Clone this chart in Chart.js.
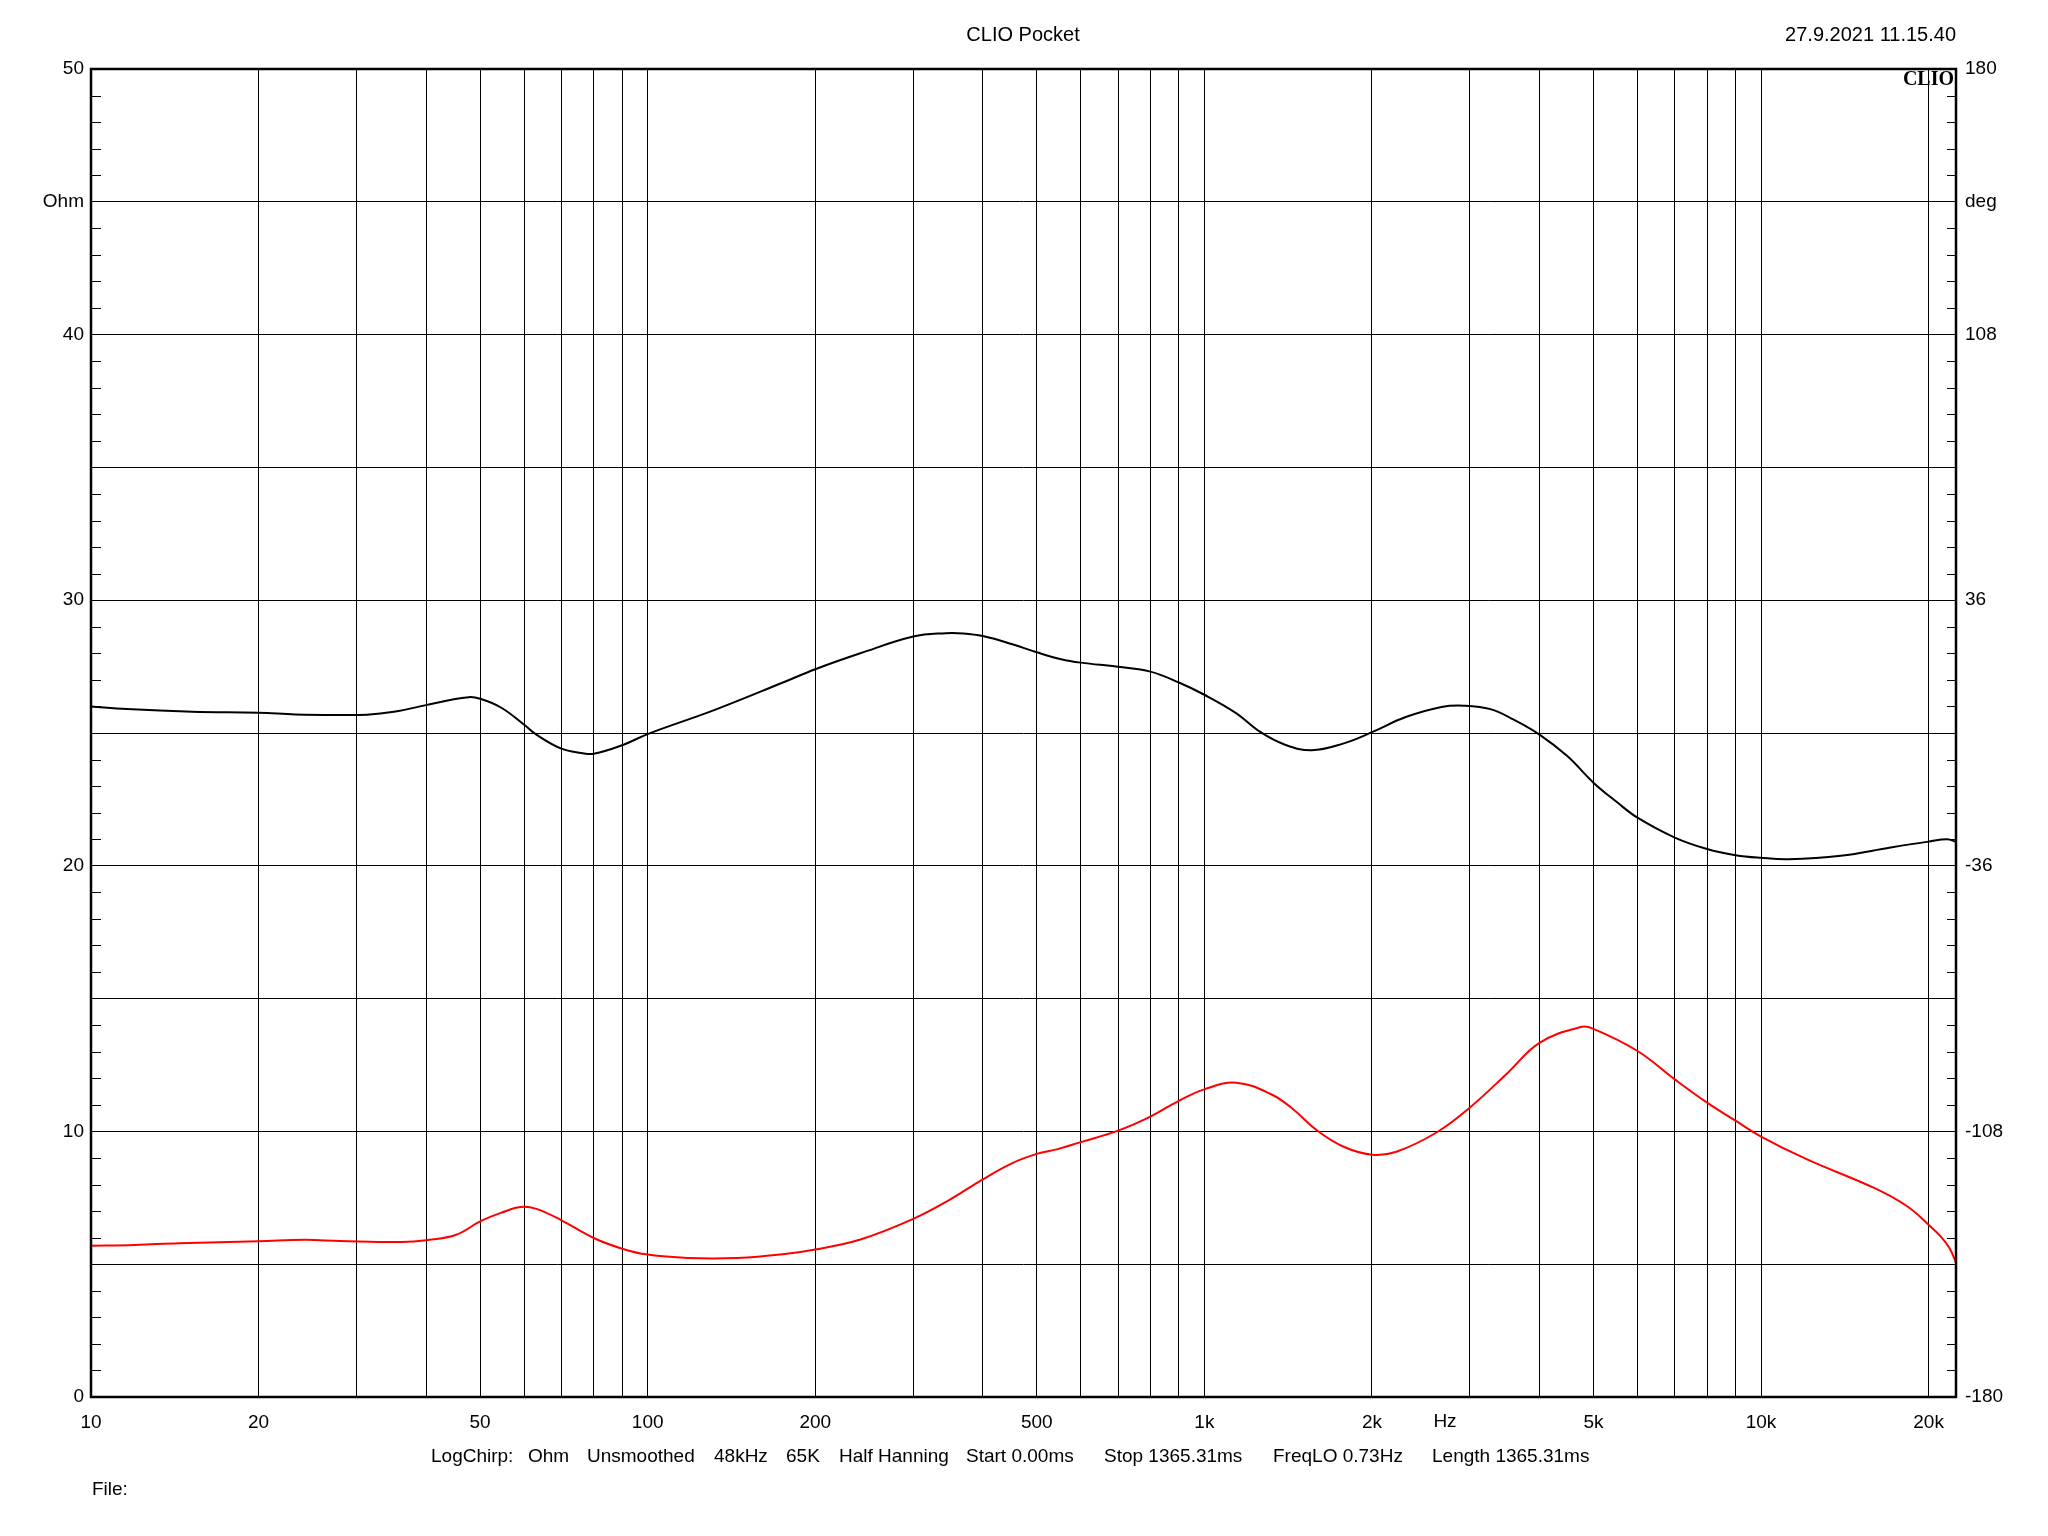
<!DOCTYPE html>
<html>
<head>
<meta charset="utf-8">
<title>CLIO Pocket</title>
<script src="https://cdn.jsdelivr.net/npm/chart.js@4.4.1/dist/chart.umd.min.js"></script>
<style>
	html, body { margin: 0; padding: 0; background: #fff; }
	canvas { display: block; }
</style>
</head>
<body>
<canvas id="chart" width="2048" height="1536"></canvas>
<script>
// impedance magnitude (black, left axis, Ohm)
const magFreq = [10, 11.6, 15.2, 20, 23.3, 27.5, 31.3, 35, 40, 43.7, 47.7, 50, 54.5, 60, 63.1, 70, 76, 80, 90, 100,
	132, 175, 200, 241, 300, 343, 369, 400, 452, 500, 553, 600, 700, 800, 900, 1000, 1140, 1262, 1396, 1559, 1775,
	2000, 2300, 2667, 2925, 3265, 3597, 4000, 4487, 5000, 5523, 6000, 7000, 8000, 9000, 10000, 11200, 13900, 17100,
	20000, 21600, 22400];
const magOhm = [26.0, 25.9, 25.8, 25.76, 25.7, 25.68, 25.69, 25.8, 26.05, 26.22, 26.35, 26.29, 25.96, 25.31, 24.94, 24.41, 24.25, 24.22, 24.54, 24.96,
	25.87, 26.9, 27.4, 28.0, 28.63, 28.76, 28.75, 28.65, 28.34, 28.04, 27.78, 27.65, 27.49, 27.31, 26.9, 26.44, 25.75, 25.03, 24.56, 24.35, 24.6,
	25.03, 25.6, 25.98, 26.03, 25.9, 25.5, 24.94, 24.13, 23.13, 22.38, 21.81, 21.06, 20.63, 20.4, 20.3, 20.25, 20.38, 20.69,
	20.91, 21.0, 20.9];

// phase (red, right axis, deg)
const phaseFreq = [10, 12, 14.4, 20, 24.2, 28, 36.2, 40, 45.3, 50, 54.5, 59.1, 63.1, 70, 80, 90, 100, 118, 145, 175,
	200, 241, 300, 349, 400, 452, 500, 545, 600, 700, 800, 900, 1000, 1140, 1321, 1449, 1589, 1775, 2000, 2213,
	2612, 3000, 3498, 4000, 4745, 5000, 6000, 7000, 8000, 9000, 10000, 12100, 16000, 18300, 20000, 21000, 21800, 22400];
const phaseDeg = [-139.0, -138.8, -138.3, -137.8, -137.4, -137.7, -138.0, -137.5, -136.0, -132.4, -130.1, -128.5, -129.0, -132.1, -136.9, -139.8, -141.4, -142.3, -142.3, -141.3,
	-140.0, -137.3, -131.7, -126.5, -121.0, -116.6, -114.1, -112.8, -110.9, -107.8, -104.0, -99.7, -96.6, -94.8, -98.0, -102.2, -107.6, -112.1, -114.3, -113.5,
	-108.3, -101.5, -92.3, -84.0, -79.7, -80.2, -86.2, -93.9, -100.2, -105.1, -109.4, -115.6, -123.4, -128.3, -133.3, -136.4, -139.6, -143.6];

// axes
const xGrid = [20, 30, 40, 50, 60, 70, 80, 90, 100, 200, 300, 400, 500, 600, 700, 800, 900,
	1000, 2000, 3000, 4000, 5000, 6000, 7000, 8000, 9000, 10000, 20000];
const xLabels = {10: '10', 20: '20', 50: '50', 100: '100', 200: '200', 500: '500',
	1000: '1k', 2000: '2k', 5000: '5k', 10000: '10k', 20000: '20k'};
const leftLabels = {0: '0', 10: '10', 20: '20', 30: '30', 40: '40', 45: 'Ohm', 50: '50'};
const rightLabels = {'-180': '-180', '-108': '-108', '-36': '-36', '36': '36', '108': '108', '144': 'deg', '180': '180'};

const infoLine = ['LogChirp:', 'Ohm', 'Unsmoothed', '48kHz', '65K', 'Half Hanning', 'Start 0.00ms',
	'Stop 1365.31ms', 'FreqLO 0.73Hz', 'Length 1365.31ms'];
const infoX = [431, 528, 587, 714, 786, 839, 966, 1104, 1273, 1432];

const font = '"Liberation Sans", Arial, sans-serif';

let zip = (xs, ys) => xs.map((x, i) => ({x: x, y: ys[i]}));

const frame = {
	id: 'frame',
	afterDraw(chart) {
		let ctx = chart.ctx;
		let a = chart.chartArea;
		let y = chart.scales.y;
		ctx.save();
		ctx.strokeStyle = '#000';
		ctx.lineWidth = 1;
		// minor ticks on the inside of both vertical axes
		for (let v = 0; v <= 50; v++) {
			if (v % 5 === 0) continue;
			let py = Math.round(y.getPixelForValue(v)) + 0.5;
			ctx.beginPath();
			ctx.moveTo(a.left, py); ctx.lineTo(a.left + 10, py);
			ctx.moveTo(a.right - 9, py); ctx.lineTo(a.right, py);
			ctx.stroke();
		}
		ctx.lineWidth = 2.5;
		ctx.strokeRect(a.left, a.top, a.right - a.left, a.bottom - a.top);

		ctx.fillStyle = '#000';
		ctx.textBaseline = 'middle';
		ctx.font = '20px ' + font;
		ctx.textAlign = 'center';
		ctx.fillText('CLIO Pocket', 1023, 35);
		ctx.textAlign = 'right';
		ctx.fillText('27.9.2021 11.15.40', 1956, 35);

		ctx.font = 'bold 20px "Liberation Serif", "DejaVu Serif", serif';
		ctx.textAlign = 'right';
		ctx.fillText('CLIO', 1954, 80);

		ctx.font = '19px ' + font;
		ctx.textAlign = 'center';
		ctx.fillText('Hz', 1445, 1422);
		ctx.textAlign = 'left';
		infoLine.forEach((s, i) => ctx.fillText(s, infoX[i], 1457));
		ctx.fillText('File:', 92, 1490);
		ctx.restore();
	}
};

new Chart(document.getElementById('chart'), {
	type: 'line',
	data: {
		datasets: [{
			data: zip(magFreq, magOhm),
			yAxisID: 'y',
			borderColor: '#000',
			borderWidth: 2,
			pointRadius: 0,
			tension: 0.4
		}, {
			data: zip(phaseFreq, phaseDeg),
			yAxisID: 'y2',
			borderColor: '#ff0000',
			borderWidth: 2,
			pointRadius: 0,
			tension: 0.4
		}]
	},
	options: {
		responsive: false,
		animation: false,
		layout: { padding: { top: 69, left: 0, right: 0, bottom: 0 } },
		plugins: { legend: { display: false }, tooltip: { enabled: false } },
		scales: {
			x: {
				type: 'logarithmic',
				min: 10,
				max: 22400,
				afterBuildTicks: s => { s.ticks = [10].concat(xGrid).map(v => ({value: v})); },
				afterFit: s => { s.height = 139; },
				grid: { color: ctx => ctx.tick && ctx.tick.value === 10 ? 'rgba(0,0,0,0)' : '#000', lineWidth: 1, drawTicks: false },
				border: { display: false },
				ticks: {
					autoSkip: false, maxRotation: 0, padding: 14, color: '#000',
					font: { family: font, size: 19 },
					callback: v => xLabels[v] || ''
				}
			},
			y: {
				position: 'left',
				min: 0, max: 50,
				afterFit: s => { s.width = 91; },
				grid: { color: '#000', lineWidth: 1, drawTicks: false },
				border: { display: false },
				ticks: {
					stepSize: 5, padding: 7, color: '#000',
					font: { family: font, size: 19 },
					callback: v => leftLabels[v] || ''
				}
			},
			y2: {
				position: 'right',
				min: -180, max: 180,
				afterFit: s => { s.width = 92; },
				grid: { display: false, drawTicks: false },
				border: { display: false },
				ticks: {
					stepSize: 36, padding: 9, color: '#000',
					font: { family: font, size: 19 },
					callback: v => rightLabels[String(v)] || ''
				}
			}
		}
	},
	plugins: [frame]
});
</script>
</body>
</html>
